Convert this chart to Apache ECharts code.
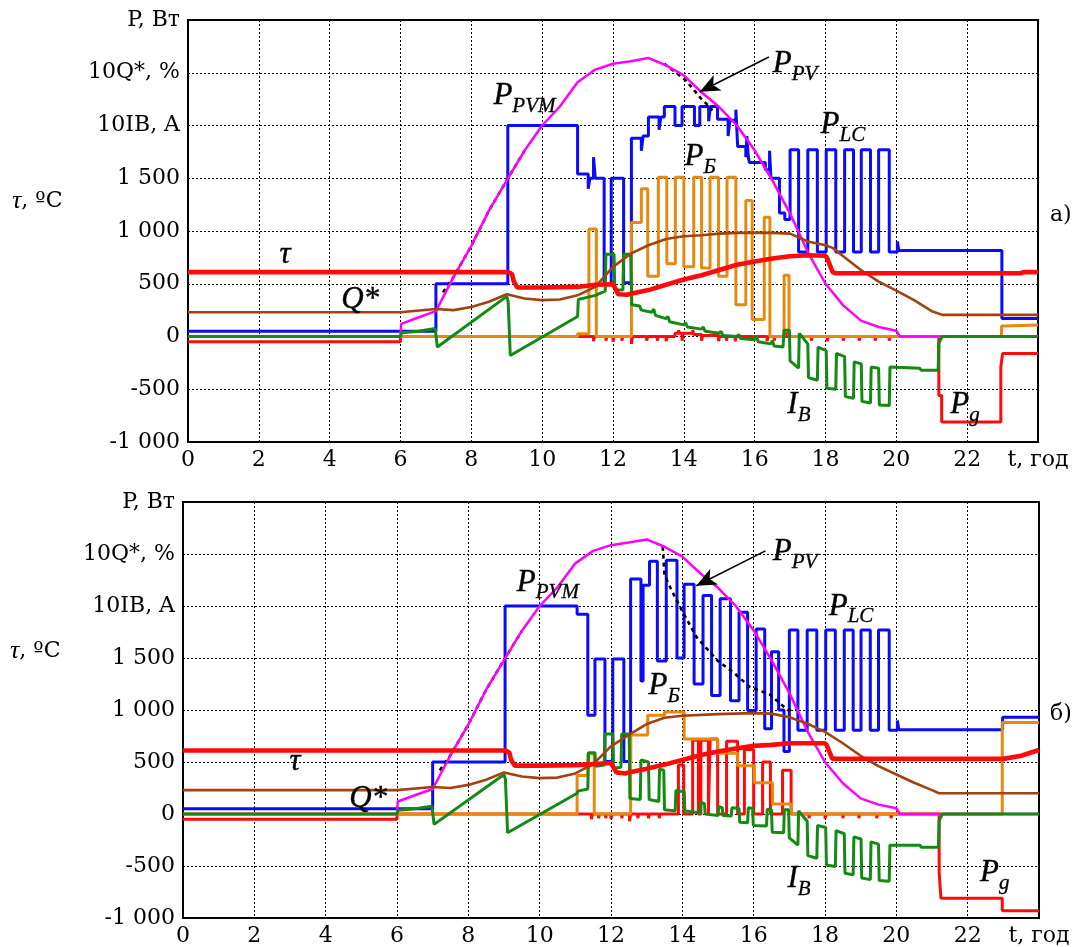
<!DOCTYPE html>
<html><head><meta charset="utf-8">
<script src="https://cdn.jsdelivr.net/npm/echarts@6/dist/echarts.min.js"></script>
<style>html,body{margin:0;padding:0;background:#fff}#c{width:1073px;height:947px}</style>
</head><body><div id="c"></div>
<script>
// ---------- tick labels ----------
const yTicks = [-1000,-500,0,500,1000,1500,2000,2500,3000];
const yTickLabels = ['-1 000','-500','0','500','1 000','1 500','10IB, A','10Q*, %','P, Вт'];
const xTicks = [0,2,4,6,8,10,12,14,16,18,20,22,24];
const xTickLabels = ['0','2','4','6','8','10','12','14','16','18','20','22','t, год'];

// ---------- shared: available PV power (PPVM) ----------
const ppvm = [[0,0],[6,0],[6.02,120],[6.5,180],[7,240],[7.5,565],[8,860],[8.5,1195],[9,1480],[9.5,1760],[10,2000],[10.5,2180],[11,2410],[11.5,2530],[12,2585],[12.5,2610],[13,2640],[13.5,2570],[14,2475],[14.5,2315],[15,2175],[15.5,2000],[16,1765],[16.5,1480],[17,1165],[17.5,800],[18,500],[18.5,295],[19,150],[19.5,90],[20,55],[20.1,0],[24,0]];

// ---------- chart a) ----------
const ppvA = [[7.2,420],[7.5,565],[8,860],[8.5,1195],[9,1480],[9.5,1760],[9.6,'-'],[13.45,2585],[13.9,2470],[14.05,2430],[14.3,2330],[14.5,2250],[14.75,2170],[14.8,2140]];
const plcA = [[0,50],[7,500],[9.03,2000],[11,1540],[11.3,1400],[11.35,1500],[11.45,1700],[11.5,1500],[11.75,500],[11.95,1500],[12.3,510],[12.52,1880],[12.8,1760],[12.85,1900],[13,2080],[13.3,1960],[13.35,2080],[13.45,2180],[13.75,2000],[13.95,2180],[14.3,2000],[14.45,2180],[14.7,2040],[14.75,2180],[14.95,2060],[15.25,1900],[15.3,2050],[15.47,2150],[15.52,1800],[15.75,1700],[15.78,1900],[15.82,1700],[15.85,1650],[16.3,1580],[16.42,1760],[16.46,1500],[16.7,1170],[16.85,1110],[17.0,1770],[17.24,800],[17.5,1770],[17.77,800],[18.02,1770],[18.29,800],[18.54,1770],[18.79,800],[19.01,1770],[19.27,800],[19.5,1770],[19.8,800],[20.03,900],[20.07,815],[22.98,170],[24,170]];
const pbA = [[0,0],[11.0,25],[11.32,1020],[11.53,0],[12.52,1080],[12.8,1400],[12.98,570],[13.28,1510],[13.52,690],[13.76,1510],[14.0,660],[14.28,1510],[14.5,650],[14.74,1510],[14.98,570],[15.22,1510],[15.47,300],[15.75,1290],[15.93,160],[16.27,1130],[16.43,0],[16.83,580],[16.97,0],[22.97,100],[23.05,110],[24,110]];
const pgA = [[0,-50],[6.0,0],[11.45,-45],[11.48,0],[11.8,-40],[11.83,0],[12.0,-50],[12.03,0],[12.25,-40],[12.28,0],[12.52,-70],[12.55,0],[12.95,-40],[12.98,0],[13.25,-40],[13.28,0],[13.5,-45],[13.53,0],[13.75,30],[13.85,60],[13.88,30],[13.95,-40],[13.98,30],[14.25,60],[14.28,20],[14.5,-40],[14.53,10],[14.98,-45],[15.01,0],[15.2,-40],[15.23,0],[15.45,-45],[15.48,0],[15.95,-40],[15.98,0],[16.35,-45],[16.38,0],[16.55,-40],[16.58,0],[16.9,40],[16.93,0],[17.6,-40],[17.63,0],[18.05,-45],[18.08,0],[18.5,-40],[18.53,0],[18.95,-40],[18.98,0],[19.4,-40],[19.43,0],[19.8,-40],[19.83,0],[21.2,-560],[21.28,-810],[22.95,-290],[23.0,-160],[24,-160]];
const ibA = [[0,0],[6,0],[6.03,35],[6.5,50],[6.98,75],[7.0,75],[7.04,-100],[9.0,380],[9.04,330],[9.1,-180],[11.0,190],[11.02,350],[11.5,390],[11.78,430],[11.8,780],[12.03,780],[12.05,440],[12.28,440],[12.3,780],[12.5,780],[12.53,300],[12.75,290],[12.8,250],[13.1,230],[13.15,260],[13.2,200],[13.5,170],[13.55,190],[13.6,140],[14.0,110],[14.05,130],[14.1,90],[14.5,70],[14.55,90],[14.6,50],[15.0,30],[15.05,50],[15.1,10],[15.5,0],[15.55,20],[15.6,-20],[16.0,-30],[16.05,0],[16.1,-50],[16.45,-70],[16.5,-40],[16.55,-90],[16.8,-100],[16.83,60],[16.98,60],[17.0,-230],[17.24,-300],[17.26,30],[17.5,-70],[17.52,-390],[17.77,-415],[17.79,-100],[18.02,-135],[18.04,-490],[18.29,-500],[18.31,-160],[18.54,-190],[18.56,-570],[18.79,-585],[18.81,-240],[19.01,-260],[19.03,-615],[19.27,-630],[19.29,-290],[19.5,-300],[19.52,-650],[19.8,-655],[19.82,-290],[20.66,-300],[20.7,-320],[21.18,-320],[21.2,-60],[21.3,0],[24,0]];
const qA = [[0,230],[6,230],[6.05,245],[7,260],[7.5,250],[8,280],[8.5,330],[9,400],[9.5,360],[10,345],[10.5,350],[11,390],[11.5,470],[12,660],[12.5,785],[13,865],[13.5,925],[14,950],[14.5,960],[15,975],[15.5,982],[16,985],[16.5,982],[17,975],[17.3,930],[17.5,900],[17.8,880],[18,865],[18.2,840],[18.5,760],[19,630],[19.5,520],[20,435],[20.5,345],[21,240],[21.3,205],[24,205]];
const tauA = [[0,610],[9.05,610],[9.15,590],[9.2,520],[9.3,465],[10,465],[11,470],[11.5,490],[12,495],[12.05,480],[12.15,400],[12.4,395],[12.5,405],[13,440],[13.5,490],[14,540],[14.5,580],[15,630],[15.5,680],[16,710],[16.5,740],[17,760],[17.5,770],[18,765],[18.05,740],[18.2,610],[18.3,600],[23.5,600],[23.6,610],[24,610]];

// ---------- chart б) ----------
const ppvB = [[7.2,420],[7.5,565],[8,860],[8.5,1195],[9,1480],[9.5,1760],[9.6,'-'],[13.45,2570],[13.5,2300],[13.7,2150],[14.0,1950],[14.4,1700],[15.0,1470],[15.4,1370],[15.9,1220],[16.45,1150],[16.95,1000],[17.2,1000]];
const plcB = [[0,50],[7,500],[9.03,2000],[11.05,1920],[11.35,950],[11.55,1490],[11.83,505],[12.05,1490],[12.36,505],[12.55,2260],[12.84,1280],[12.9,2200],[13.08,2430],[13.3,1470],[13.55,2440],[13.85,1500],[14.05,2210],[14.33,1250],[14.58,2100],[14.82,1140],[15.06,2070],[15.35,1090],[15.59,1940],[15.83,995],[16.07,1780],[16.31,820],[16.5,1560],[16.7,1000],[16.85,600],[17.0,1770],[17.24,805],[17.5,1770],[17.77,805],[18.02,1770],[18.29,805],[18.54,1770],[18.79,805],[19.01,1770],[19.27,805],[19.5,1770],[19.8,805],[20.03,900],[20.07,810],[22.98,930],[24,930]];
const pbB = [[0,0],[11.05,370],[11.35,580],[11.53,0],[12.55,760],[13.03,950],[13.5,980],[14.05,720],[14.99,584],[15.55,464],[16.02,300],[16.53,95],[17.05,0],[22.97,880],[24,880]];
const pgB = [[0,-50],[6.0,0],[11.45,-50],[11.48,0],[11.65,-40],[11.68,0],[11.85,-40],[11.88,0],[12.0,-50],[12.03,0],[12.3,-40],[12.33,0],[12.52,-70],[12.55,0],[12.75,-40],[12.78,0],[13.05,-40],[13.08,0],[13.35,-40],[13.38,0],[13.89,470],[14.04,0],[14.29,710],[14.45,0],[14.52,710],[14.73,0],[14.78,720],[14.99,0],[15.24,700],[15.55,0],[15.74,620],[16.0,0],[16.25,500],[16.47,0],[16.81,420],[17.05,0],[17.55,-40],[17.58,0],[18.0,-45],[18.03,0],[18.5,-40],[18.53,0],[18.95,-40],[18.98,0],[19.45,-40],[19.48,0],[19.85,-40],[19.88,0],[21.2,-560],[21.25,-810],[22.97,-930],[24,-930]];
const ibB = [[0,0],[6,0],[6.03,35],[6.5,50],[6.98,75],[7.0,75],[7.04,-100],[9.0,380],[9.04,330],[9.1,-180],[11.05,200],[11.07,220],[11.35,240],[11.37,590],[11.55,590],[11.57,460],[11.81,470],[11.83,770],[12.05,770],[12.07,440],[12.28,450],[12.3,770],[12.51,770],[12.53,150],[12.82,140],[12.84,520],[13.05,500],[13.07,140],[13.34,120],[13.36,430],[13.48,420],[13.5,40],[13.8,30],[13.82,225],[14.05,215],[14.07,30],[14.5,10],[14.52,110],[14.62,100],[14.64,0],[15.0,-15],[15.02,70],[15.12,60],[15.14,-15],[15.37,-20],[15.39,60],[15.59,55],[15.61,-80],[15.83,-85],[15.85,60],[15.97,55],[15.99,-110],[16.36,-115],[16.38,45],[16.5,40],[16.52,-175],[16.84,-180],[16.86,40],[16.98,40],[17.0,-230],[17.24,-300],[17.26,30],[17.5,-70],[17.52,-400],[17.77,-426],[17.79,-110],[18.02,-130],[18.04,-490],[18.29,-505],[18.31,-160],[18.54,-190],[18.56,-570],[18.79,-584],[18.81,-220],[19.01,-240],[19.03,-615],[19.27,-631],[19.29,-268],[19.5,-290],[19.52,-640],[19.8,-647],[19.82,-300],[20.66,-300],[20.7,-320],[21.18,-320],[21.2,-60],[21.3,0],[24,0]];
const qB = [[0,230],[6,230],[6.05,245],[7,260],[7.5,250],[8,280],[8.5,330],[9,400],[9.5,360],[10,345],[10.5,350],[11,390],[11.5,480],[12,650],[12.5,760],[13,865],[13.5,925],[14,945],[15,960],[16,970],[16.5,965],[17,930],[17.5,870],[18,790],[18.5,680],[19,560],[19.5,460],[20,380],[20.5,300],[21,230],[21.2,200],[24,200]];
const tauB = [[0,610],[9.05,610],[9.15,590],[9.2,520],[9.3,465],[10,465],[11,470],[11.5,480],[12,490],[12.05,480],[12.15,400],[12.4,390],[12.5,400],[13,435],[13.5,475],[14,520],[14.5,565],[15,600],[15.5,630],[16,655],[16.5,665],[17,680],[18,680],[18.05,660],[18.2,535],[18.3,530],[23.0,530],[23.5,560],[24,615]];

// ---------- annotation anchors (data coordinates) ----------
const notesA = [
  {main:'P', sub:'PVM', t:9.5, v:2230}, {main:'P', sub:'PV', t:17.14, v:2535},
  {main:'P', sub:'LC', t:18.49, v:1957}, {main:'P', sub:'Б', t:14.46, v:1654},
  {main:'τ', sub:'', t:2.74, v:725}, {main:'Q*', sub:'', t:4.86, v:299},
  {main:'I', sub:'B', t:17.25, v:-697}, {main:'P', sub:'g', t:21.94, v:-697}
];
const notesB = [
  {main:'P', sub:'PVM', t:10.23, v:2175}, {main:'P', sub:'PV', t:17.16, v:2471},
  {main:'P', sub:'LC', t:18.73, v:1945}, {main:'P', sub:'Б', t:13.49, v:1180},
  {main:'τ', sub:'', t:3.14, v:453}, {main:'Q*', sub:'', t:5.19, v:100},
  {main:'I', sub:'B', t:17.27, v:-675}, {main:'P', sub:'g', t:22.76, v:-618}
];
const arrowA = [[16.4,2650],[14.45,2320]];
const arrowB = [[16.33,2530],[14.39,2195]];

const C = {blue:'#0a0aff', red:'#ff0a0a', green:'#138a13', orange:'#e68a0e', brown:'#a3410f', mag:'#ff00ff'};
const SERIF = 'DejaVu Serif';
const TIMES = 'Liberation Serif';

const rich = {
  m:{fontFamily:TIMES, fontStyle:'italic', fontSize:31, lineHeight:31, fill:'#000', stroke:'#000', lineWidth:0.4, padding:[0,0,5,0], verticalAlign:'bottom'},
  s:{fontFamily:TIMES, fontStyle:'italic', fontSize:21, lineHeight:21, fill:'#000', stroke:'#000', lineWidth:0.3, verticalAlign:'bottom'}
};

function line(data, color, width, g, extra){
  return Object.assign({type:'line', xAxisIndex:g, yAxisIndex:g, data:data, symbol:'none', showSymbol:false,
    lineStyle:{color:color, width:width}, itemStyle:{color:color}, animation:false, silent:true}, extra||{});
}
function arrow(a){
  return {silent:true, symbol:['none','arrow'], symbolSize:[13,20], label:{show:false},
    lineStyle:{color:'#000', width:1.6, type:'solid'}, animation:false,
    data:[[{coord:a[0]},{coord:a[1]}]]};
}
function seriesFor(g, d){
  return [
    line(d.plc, C.blue, 3, g, {step:'end'}),
    line(d.pg, C.red, 3, g, {step:'end'}),
    line(d.pb, C.orange, 3, g, {step:'end'}),
    line(d.ppv, '#000', 2.6, g, {lineStyle:{color:'#000', width:2.6, type:[4,4]}, connectNulls:false, markLine:arrow(d.arrow)}),
    line(ppvm, C.mag, 2.5, g),
    line(d.ib, C.green, 3, g),
    line(d.q, C.brown, 2.6, g),
    line(d.tau, C.red, 4.6, g)
  ];
}
function xAxis(g){
  return {gridIndex:g, type:'value', min:0, max:24, interval:2,
    axisLine:{show:false}, axisTick:{show:false},
    splitLine:{show:true, lineStyle:{color:'#000', width:1, type:[2,2]}},
    axisLabel:{fontFamily:SERIF, fontSize:22, color:'#000', margin:7, showMinLabel:true, showMaxLabel:true,
      formatter:function(v){ var i = xTicks.indexOf(v); return i>=0 ? xTickLabels[i] : ''; }}};
}
function yAxis(g){
  return {gridIndex:g, type:'value', min:-1000, max:3000, interval:500,
    axisLine:{show:false}, axisTick:{show:false},
    splitLine:{show:true, lineStyle:{color:'#000', width:1, type:[2,2]}},
    axisLabel:{fontFamily:SERIF, fontSize:22, color:'#000', margin:8, showMinLabel:true, showMaxLabel:true,
      formatter:function(v){ var i = yTicks.indexOf(v); return i>=0 ? yTickLabels[i] : ''; }}};
}

const chart = echarts.init(document.getElementById('c'));
const titleRich = {i:{fontFamily:TIMES, fontStyle:'italic', fontSize:26, fill:'#000'}, n:{fontFamily:SERIF, fontSize:22, fill:'#000'}};
chart.setOption({
  animation:false,
  backgroundColor:'#fff',
  grid:[
    {left:188, top:20, width:850, height:422, show:true, borderColor:'#000', borderWidth:2, backgroundColor:'transparent'},
    {left:183, top:502, width:856, height:418, show:true, borderColor:'#000', borderWidth:2, backgroundColor:'transparent'}
  ],
  xAxis:[xAxis(0), xAxis(1)],
  yAxis:[yAxis(0), yAxis(1)],
  series: seriesFor(0, {plc:plcA, pg:pgA, pb:pbA, ppv:ppvA, ib:ibA, q:qA, tau:tauA, arrow:arrowA})
    .concat(seriesFor(1, {plc:plcB, pg:pgB, pb:pbB, ppv:ppvB, ib:ibB, q:qB, tau:tauB, arrow:arrowB}))
});

// text annotations placed through the axes' own scales
const graphics = [
  {type:'text', left:12, top:188, style:{text:'{i|τ}{n|, ºC}', rich:titleRich}},
  {type:'text', left:10, top:638, style:{text:'{i|τ}{n|, ºC}', rich:titleRich}},
  {type:'text', left:1050, top:204, style:{text:'a)', fontFamily:SERIF, fontSize:22, fill:'#000'}},
  {type:'text', left:1050, top:703, style:{text:'б)', fontFamily:SERIF, fontSize:22, fill:'#000'}}
];
[[0, notesA], [1, notesB]].forEach(function(pair){
  pair[1].forEach(function(it){
    var p = chart.convertToPixel({gridIndex:pair[0]}, [it.t, it.v]);
    graphics.push({type:'text', x:p[0], y:p[1], z:100, silent:true,
      style:{text: it.sub ? '{m|'+it.main+'}{s|'+it.sub+'}' : '{m|'+it.main+'}', rich:rich, align:'center', verticalAlign:'middle'}});
  });
});
chart.setOption({graphic:graphics});
</script></body></html>
